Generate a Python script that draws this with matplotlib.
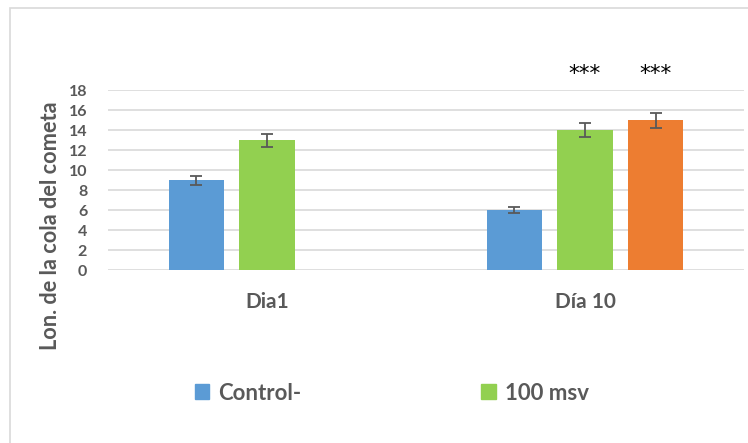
import numpy as np
import matplotlib
matplotlib.use("Agg")
import matplotlib.pyplot as plt
from matplotlib.patches import Rectangle, Patch

plt.rcParams['font.family'] = ['Lato', 'DejaVu Sans']
plt.rcParams['font.weight'] = 'bold'

dias = ["Dia1", "Día 10"]
series = ["Control-", "100 msv", "otro"]
colores = ["#5B9BD5", "#92D050", "#ED7D31"]
valores = [
    [9.0, 6.0],
    [13.0, 14.0],
    [np.nan, 15.0],
]
errores = [
    [0.45, 0.32],
    [0.65, 0.72],
    [np.nan, 0.75],
]
signif = [["", ""], ["", "***"], ["", "***"]]
gris = "#595959"

fig = plt.figure(figsize=(7.48, 4.43), dpi=100)
W, H = 748, 443
ax = fig.add_axes([108 / W, 1 - 270 / H, (744 - 108) / W, 180 / H])

x = np.arange(len(dias))
paso = 0.222
ancho = 0.175
for i, (nombre, col) in enumerate(zip(series, colores)):
    vals = np.array(valores[i])
    pos = x + (i - 1) * paso
    ax.bar(pos, vals, width=ancho, color=col, zorder=3)
    ax.errorbar(pos, vals, yerr=errores[i], fmt="none", ecolor="#595959",
                elinewidth=1.3, capsize=4.5, capthick=1.3, zorder=4)
    for j in range(len(dias)):
        if signif[i][j]:
            ax.text(pos[j], 19.6, signif[i][j], ha="center", va="center",
                    fontsize=15.5, color="black", clip_on=False,
                    family=['DejaVu Sans'], fontweight='normal')

ax.set_xlim(-0.5, 1.5)
ax.set_ylim(0, 18)
ax.set_yticks(np.arange(0, 19, 2))
ax.yaxis.grid(True, color="#d9d9d9", linewidth=1.2, zorder=0)
ax.set_axisbelow(True)
for s in ax.spines.values():
    s.set_visible(False)
ax.tick_params(axis="y", length=0, pad=15, labelsize=11.5, labelcolor=gris)
ax.tick_params(axis="x", length=0, pad=16, labelsize=15, labelcolor=gris)
ax.set_xticks(x)
ax.set_xticklabels(dias)
for t in ax.get_yticklabels() + ax.get_xticklabels():
    t.set_fontweight("bold")

fig.text(51 / W, 1 - 226 / H, "Lon. de la cola del cometa", rotation=90,
         ha="center", va="center", fontsize=15.7, color=gris, fontweight="bold")

handles = [Patch(color=colores[0], label=series[0]),
           Patch(color=colores[1], label=series[1])]
leg = fig.legend(handles=handles, loc="center left",
                 bbox_to_anchor=(175 / W, 1 - 393 / H), ncol=2, frameon=False,
                 handlelength=0.65, handleheight=0.65, handletextpad=0.4,
                 columnspacing=8.1, fontsize=16)
for t in leg.get_texts():
    t.set_color(gris)
    t.set_fontweight("bold")

fig.patches.append(Rectangle((10 / W, -0.2), 1.2, 1 - 7.5 / H + 0.2,
                             transform=fig.transFigure, fill=False,
                             edgecolor="#d9d9d9", linewidth=1.2))

fig.savefig("out.png", dpi=100)
